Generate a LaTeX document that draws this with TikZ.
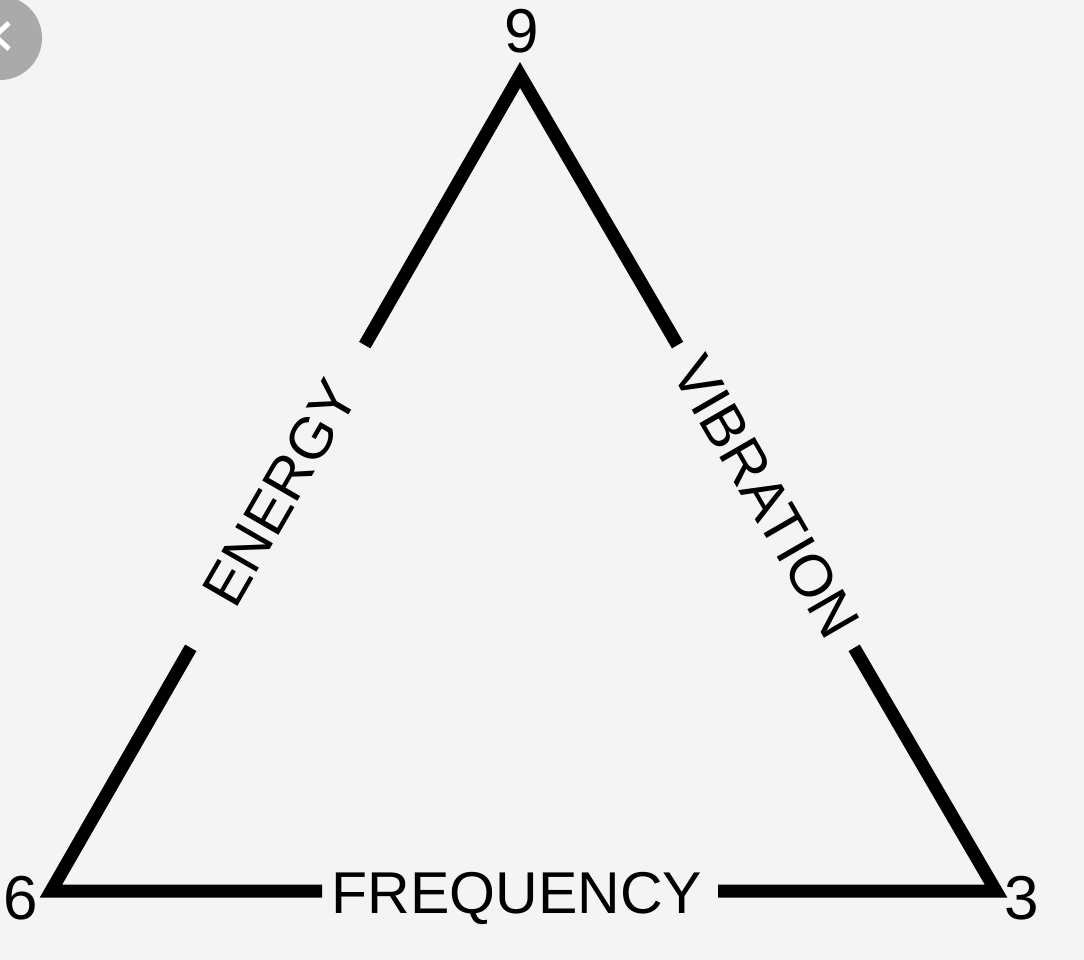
\documentclass[tikz,border=0pt]{standalone}
\usepackage{fontspec}
\setmainfont{Liberation Sans}
\usetikzlibrary{calc}
\definecolor{bgc}{HTML}{F4F4F4}
\definecolor{btn}{HTML}{AAAAAA}
\tikzset{
  side/.style={line width=13pt, line join=miter, line cap=butt, black},
  lbl/.style={inner sep=0pt, font=\fontsize{59}{60}\selectfont},
  num/.style={inner sep=0pt, font=\fontsize{62}{62}\selectfont}
}
\begin{document}
\begin{tikzpicture}[x=1pt,y=-1pt]
\useasboundingbox (0,0) rectangle (1084,960);
\clip (0,0) rectangle (1084,960);
\fill[bgc] (0,0) rectangle (1084,960);
% back button remnant
\fill[btn] (0,38) circle (42);
\draw[white, line width=5pt] (9,23) -- (-5,36) -- (9,49);
% vertices
\coordinate (top) at (520,75);
\coordinate (L) at (51,891);
\coordinate (R) at (996,891);
% gap ends
\coordinate (l1) at ($(top)!0.331!(L)$);
\coordinate (l2) at ($(top)!0.702!(L)$);
\coordinate (r1) at ($(top)!0.331!(R)$);
\coordinate (r2) at ($(top)!0.702!(R)$);
\coordinate (b1) at ($(L)!0.287!(R)$);
\coordinate (b2) at ($(L)!0.706!(R)$);
\draw[side] (l1) -- (top) -- (r1);
\draw[side] (l2) -- (L) -- (b1);
\draw[side] (r2) -- (R) -- (b2);
% labels
\node[lbl, rotate=60] (energy) at ($(top)!0.512!(L)$) {ENERGY};
\node[lbl, rotate=-60] (vibration) at ($(top)!0.517!(R)$) {VIBRATION};
\node[lbl, anchor=base] (frequency) at (517,913) {FREQUENCY};
\node[num] (n9) at (522,31) {9};
\node[num] (n6) at (21,898) {6};
\node[num] (n3) at (1022,898) {3};
\end{tikzpicture}
\end{document}
